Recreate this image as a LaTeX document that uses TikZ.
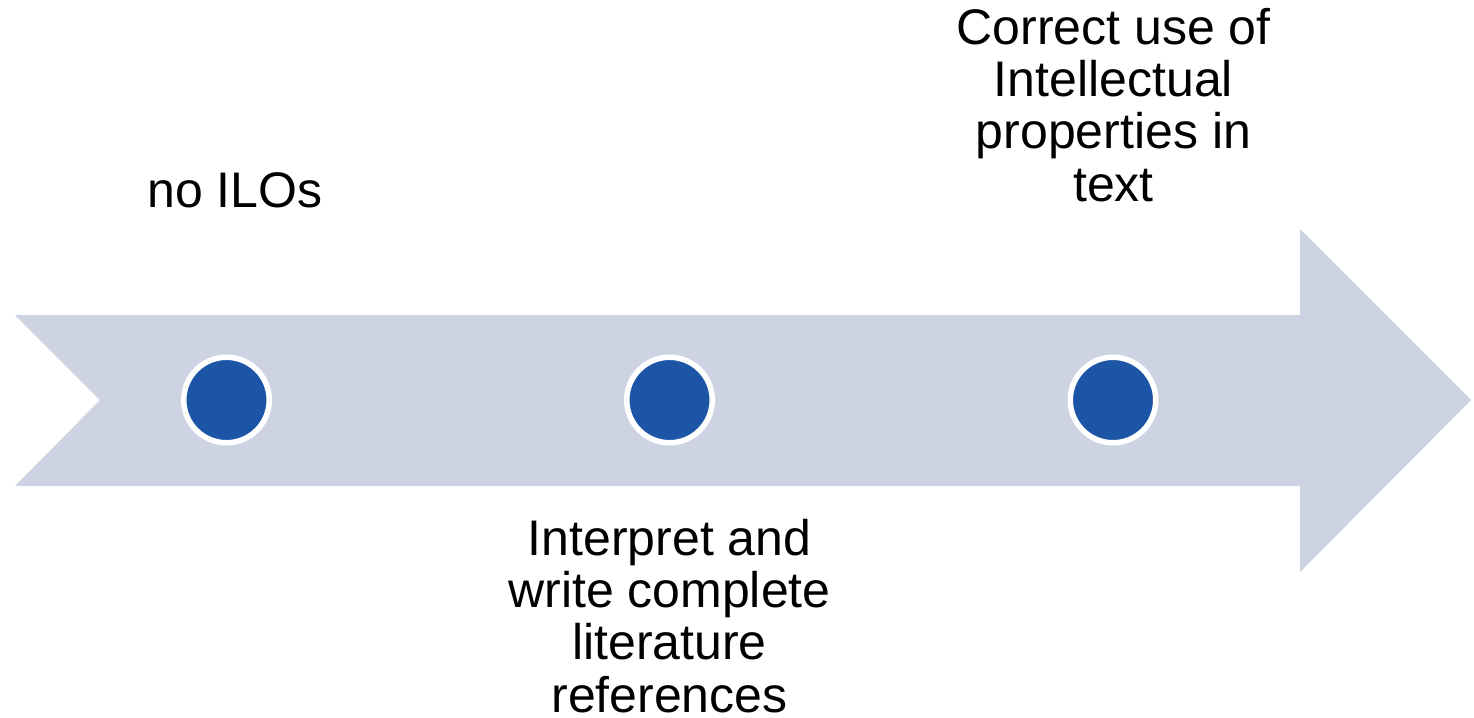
\documentclass[tikz,border=0pt]{standalone}
\usepackage{fontspec}
\setmainfont{Liberation Sans}
\definecolor{arrowfill}{RGB}{205,211,227}
\definecolor{dotfill}{RGB}{28,85,166}
\begin{document}
\begin{tikzpicture}[x=1pt,y=-1pt,
  dot/.style={circle,fill=dotfill,draw=white,line width=5.5pt,minimum size=85.5pt,inner sep=0pt},
  lbl/.style={align=center,inner sep=0pt,anchor=base,font=\fontsize{50}{52.3}\selectfont}]
\useasboundingbox (0,0) rectangle (1474,717);
\fill[arrowfill] (15,315) -- (1300,315) -- (1300,229) -- (1471,400) -- (1300,572) -- (1300,486) -- (15,486) -- (100,400) -- cycle;
\node[dot] (d1) at (226.5,400) {};
\node[dot] (d2) at (669.5,400) {};
\node[dot] (d3) at (1113,400) {};
\node[lbl] (t1) at (235,207) {no ILOs};
\node[lbl] (t2) at (669.5,712) {Interpret and\\write complete\\literature\\references};
\node[lbl] (t3) at (1113.5,201) {Correct use of\\Intellectual\\properties in\\text};
\end{tikzpicture}
\end{document}
